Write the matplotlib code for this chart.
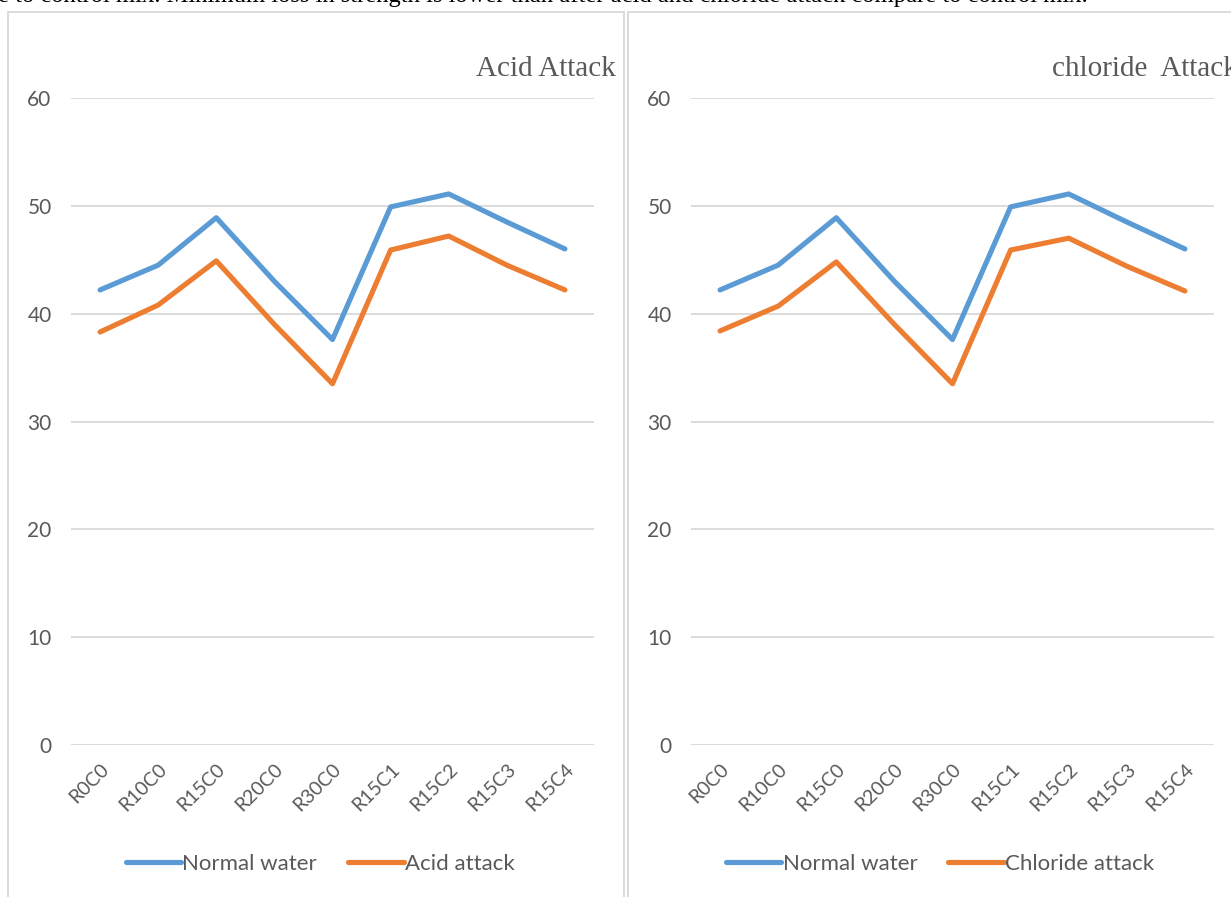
import matplotlib
matplotlib.use("Agg")
import matplotlib.pyplot as plt
from matplotlib.patches import Rectangle

categories = ["R0C0", "R10C0", "R15C0", "R20C0", "R30C0", "R15C1", "R15C2", "R15C3", "R15C4"]
normal_water_acid = [42.2, 44.5, 48.9, 43.0, 37.6, 49.9, 51.1, 48.5, 46.0]
acid_attack = [38.3, 40.8, 44.9, 39.0, 33.5, 45.9, 47.2, 44.5, 42.2]
normal_water_chloride = [42.2, 44.5, 48.9, 43.0, 37.6, 49.9, 51.1, 48.5, 46.0]
chloride_attack = [38.4, 40.7, 44.8, 39.0, 33.5, 45.9, 47.0, 44.4, 42.1]
y_ticks = [0, 10, 20, 30, 40, 50, 60]

W, H = 1231, 897
fig = plt.figure(figsize=(W / 100, H / 100), dpi=100)

BLUE = "#5B9BD5"
ORANGE = "#ED7D31"
GRID = "#D9D9D9"
TXT = "#595959"
TICKFONT = ["Lato", "DejaVu Sans"]
SERIF = ["Liberation Serif", "DejaVu Serif"]

def px(x, y):
    return x / W, 1 - y / H

# panel borders
for x0, x1 in [(8, 624), (628, 1250)]:
    fig.patches.append(Rectangle(px(x0, 920), (x1 - x0) / W, (920 - 12) / H,
                                 transform=fig.transFigure, fill=False,
                                 edgecolor=GRID, lw=1.3, zorder=0))

# top cut-off text
t = fig.text(-2 / W, 1 - 2 / H,
             "e to control mix. Minimum loss in strength is lower than after acid and chloride attack compare to control mix.",
             family=SERIF, fontsize=14, color="black", ha="left", va="baseline")
r = fig.canvas.get_renderer()
w = t.get_window_extent(r).width
t.set_fontsize(14 * 1097 / w)

panels = [
    (71, "Acid Attack", 616, normal_water_acid, acid_attack, "Acid attack"),
    (691, "chloride  Attack", 1238, normal_water_chloride, chloride_attack, "Chloride attack"),
]

for left, title, title_right, s1, s2, lab2 in panels:
    x0, y1 = px(left, 98)
    x1, y0 = px(left + 523, 745)
    ax = fig.add_axes([x0, y0, x1 - x0, y1 - y0])
    xs = list(range(len(categories)))
    ax.plot(xs, s1, color=BLUE, lw=3.7, solid_capstyle="round", solid_joinstyle="round", label="Normal water")
    ax.plot(xs, s2, color=ORANGE, lw=3.7, solid_capstyle="round", solid_joinstyle="round", label=lab2)
    ax.set_xlim(-0.5, len(categories) - 0.5)
    ax.set_ylim(0, 60)
    ax.set_yticks(y_ticks)
    ax.set_xticks(xs)
    ax.set_xticklabels(categories, rotation=45, ha="right", rotation_mode="anchor",
                       family=TICKFONT, fontsize=14, color=TXT)
    for lbl in ax.get_yticklabels():
        lbl.set_family(TICKFONT)
        lbl.set_fontsize(15)
        lbl.set_color(TXT)
    ax.tick_params(axis="both", length=0)
    ax.tick_params(axis="y", pad=14)
    ax.tick_params(axis="x", pad=11)
    ax.grid(axis="y", color=GRID, lw=1.3)
    ax.set_axisbelow(True)
    for s in ax.spines.values():
        s.set_visible(False)
    fig.text(*px(title_right, 76), title, family=SERIF, fontsize=21, color=TXT,
             ha="right", va="baseline")
    leg = ax.legend(loc="center", bbox_to_anchor=px(left + 249, 864),
                    bbox_transform=fig.transFigure, ncol=2, frameon=False,
                    handlelength=2.5, handletextpad=0.05, columnspacing=1.4,
                    prop={"family": TICKFONT, "size": 16})
    for txt in leg.get_texts():
        txt.set_color(TXT)

fig.savefig("out.png", dpi=100)
